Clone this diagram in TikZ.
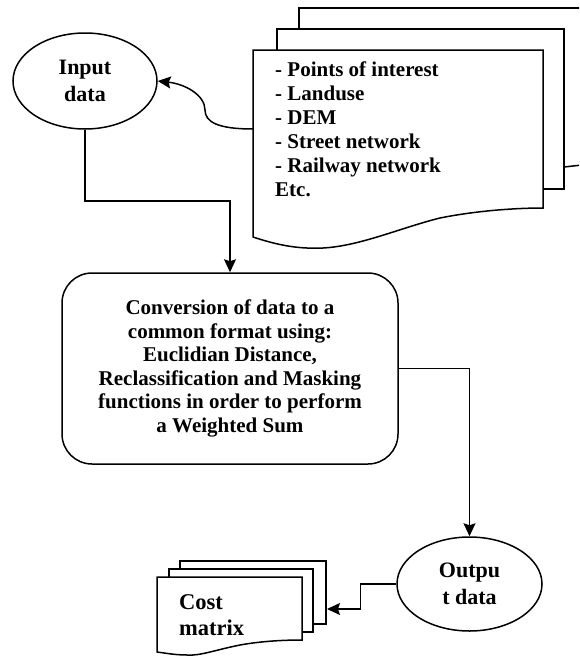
\documentclass[tikz,border=0pt]{standalone}
\usepackage{fontspec}
\setmainfont{Liberation Serif}
\usetikzlibrary{shapes.geometric,arrows.meta}
\tikzset{
  ln/.style={line width=1.5pt, line join=miter},
  arr/.style={ln, -{Stealth[length=13pt,width=12pt,inset=2pt]}},
  ovalnode/.style={ellipse, draw, line width=1.5pt, align=center, inner sep=0pt,
    font=\fontsize{22}{27}\selectfont\bfseries},
  procbox/.style={draw, line width=1.5pt, rounded corners=30pt, align=center,
    font=\fontsize{21}{23.5}\selectfont\bfseries},
  doctext/.style={align=left, inner sep=0pt, font=\fontsize{21}{24}\selectfont\bfseries},
}
\begin{document}
\begin{tikzpicture}[x=1pt,y=-1pt]
\useasboundingbox (0,0) rectangle (579,656);
\clip (0,0) rectangle (579,656);

% ---- source document stack ----
\draw[ln] (299,29) -- (299,8) -- (600,8);
\draw[ln] (564,167) -- (600,163);
\draw[ln] (277,50) -- (277,29) -- (564,29) -- (564,189) -- (543,189);
\draw[ln] (253,50) -- (543,50) -- (543,208)
  .. controls (520,208) and (480,210) .. (440,218)
  .. controls (400,228) and (360,246) .. (323,248)
  .. controls (300,249) and (280,246) .. (253,237) -- cycle;
\node[doctext, anchor=north west] (src) at (275,62) {- Points of interest\\- Landuse\\- DEM\\- Street network\\- Railway network\\Etc.};
\coordinate (srcL) at (253,129);

% ---- input ----
\node[ovalnode, minimum width=144pt, minimum height=96pt] (input) at (85,81) {Input\\data};

% ---- process box ----
\node[procbox, minimum width=336pt, minimum height=191pt] (box) at (230,368.5)
  {Conversion of data to a\\common format using:\\Euclidian Distance,\\Reclassification and Masking\\functions in order to perform\\a Weighted Sum};

% ---- output ----
\node[ovalnode, minimum width=145pt, minimum height=94pt] (output) at (469.5,584) {Outpu\\t data};

% ---- cost matrix stack ----
\draw[ln] (180,569) -- (180,561) -- (326,561) -- (326,624) -- (313,624);
\draw[ln] (169,577) -- (169,569) -- (313,569) -- (313,632) -- (302,632);
\draw[ln] (157,577) -- (302,577) -- (302,640)
  .. controls (285,640) and (262,641) .. (240,645)
  .. controls (215,650) and (200,656) .. (187,655)
  .. controls (175,655) and (165,653) .. (157,652) -- cycle;
\node[align=left, inner sep=0pt, font=\fontsize{22.5}{26.5}\selectfont\bfseries, anchor=north west] (cost) at (179,594) {Cost\\matrix};
\coordinate (costR) at (327,609);

% ---- connectors ----
\draw[arr] (srcL) .. controls (218,129) and (205,122) .. (205,110)
  .. controls (205,95) and (185,84) .. (input.east);
\draw[arr] (input.south) -- ++(0,71) -| (box.north);
\draw[arr] (box.east) -| (output.north);
\draw[arr] (output.west) -- ++(-36,0) |- (costR);
\end{tikzpicture}
\end{document}
